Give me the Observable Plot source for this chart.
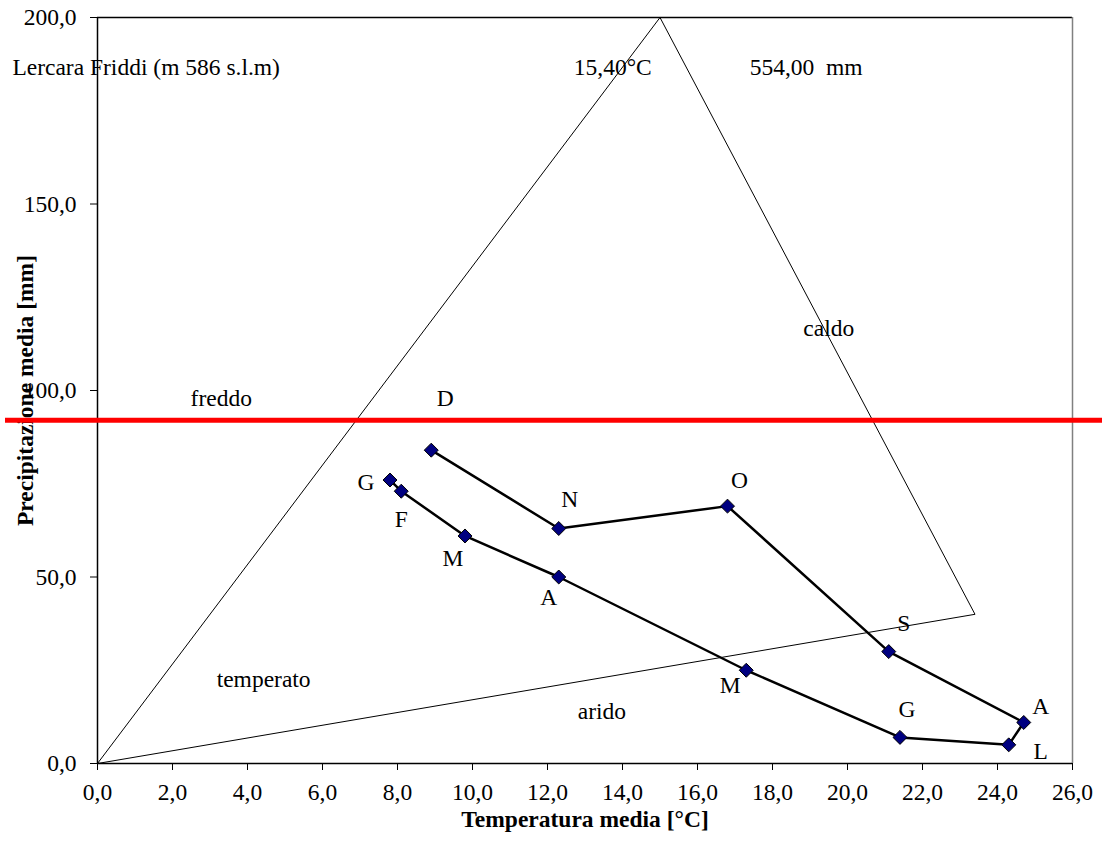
<!DOCTYPE html>
<html><head><meta charset="utf-8">
<script src="https://cdn.jsdelivr.net/npm/d3@7"></script>
<script src="https://cdn.jsdelivr.net/npm/@observablehq/plot@0.6"></script>
<style>
html,body{margin:0;padding:0;background:#fff;overflow:hidden}
svg text{white-space:pre}
</style></head><body><div id="chart"></div>
<script>
// Monthly data (Peguy climogram, Lercara Friddi)
const months = ["G","F","M","A","M","G","L","A","S","O","N","D"];
const temperature = [7.8, 8.1, 9.8, 12.3, 17.3, 21.4, 24.3, 24.7, 21.1, 16.8, 12.3, 8.9];
const precipitation = [76, 73, 61, 50, 25, 7, 5, 11, 30, 69, 63, 84];
const xTicks = [0,2,4,6,8,10,12,14,16,18,20,22,24,26];
const yTicks = [0,50,100,150,200];
// Peguy triangle vertices
const triangleT = [0, 15, 23.4, 0];
const triangleP = [0, 200, 40, 0];
// zone annotations
const zoneNames = ["freddo", "caldo", "temperato", "arido"];
const zoneT = [3.3, 19.5, 4.43, 13.45];
const zoneP = [97.9, 116.7, 22.5, 14];
const stationName = "Lercara Friddi (m 586 s.l.m)";
const redLevel = 92;

const fmt = d => d.toFixed(1).replace(".", ",");
const fmt2 = d => d.toFixed(2).replace(".", ",");
const data = months.map((m, i) => ({m, t: temperature[i], p: precipitation[i]}));
const tri = triangleT.map((t, i) => ({t, p: triangleP[i]}));
const zones = zoneNames.map((n, i) => ({n, t: zoneT[i], p: zoneP[i]}));
const meanT = d3.mean(temperature);
const sumP = d3.sum(precipitation);
const header = [
  {s: stationName, t: -2.27},
  {s: fmt2(meanT) + "°C", t: 12.7},
  {s: fmt2(sumP) + "  mm", t: 17.39}
];
// label offsets (px) for each month's data label
const labelOffsets = [[-24,2],[0,28],[-12,22],[-10,20],[-16,15],[7,-28],[32,7],[17,-16],[15,-28],[12,-26],[11,-29],[14,-52]];

const chart = Plot.plot({
  width: 1102, height: 843,
  marginLeft: 97, marginRight: 30, marginTop: 17, marginBottom: 80,
  style: {fontFamily: "'Liberation Serif', 'Times New Roman', serif", fontSize: "23.5px", color: "#000", background: "#fff"},
  x: {domain: [0, 26]},
  y: {domain: [0, 200]},
  marks: [
    Plot.axisX({ticks: xTicks, tickFormat: fmt, tickSize: 7, tickPadding: 13, label: null, fontSize: 23.5, stroke: "#000"}),
    Plot.axisY({ticks: yTicks, tickFormat: fmt, tickSize: 7, tickPadding: 14, label: null, fontSize: 23.5, stroke: "#000"}),
    Plot.ruleY([200], {stroke: "#000", strokeWidth: 1.5}),
    Plot.ruleX([26], {stroke: "#808080", strokeWidth: 1.5}),
    Plot.ruleX([0], {stroke: "#000", strokeWidth: 1.5}),
    Plot.ruleY([0], {stroke: "#000", strokeWidth: 1.5}),
    Plot.line(tri, {x: "t", y: "p", stroke: "#000", strokeWidth: 1}),
    Plot.line(data, {x: "t", y: "p", stroke: "#000", strokeWidth: 2.5}),
    Plot.dot(data, {x: "t", y: "p", symbol: "diamond2", r: 6.3, fill: "#000080", stroke: "#000", strokeWidth: 1}),
    ...labelOffsets.map((o, i) => Plot.text([data[i]], {x: "t", y: "p", text: "m", dx: o[0], dy: o[1], fill: "#000", fontSize: 23.5})),
    Plot.text(zones, {x: "t", y: "p", text: "n", fill: "#000", fontSize: 23.5}),
    Plot.text(header, {x: "t", y: () => 186.7, text: "s", textAnchor: "start", fill: "#000", fontSize: 23.5}),
    Plot.text(["Temperatura media [°C]"], {frameAnchor: "bottom", dy: 63, fontWeight: "bold", fill: "#000", fontSize: 23.5}),
    Plot.text(["Precipitazione media [mm]"], {frameAnchor: "left", textAnchor: "middle", dx: -72, rotate: -90, fontWeight: "bold", fill: "#000", fontSize: 23.5}),
    Plot.ruleY([redLevel], {stroke: "#ff0000", strokeWidth: 5, insetLeft: -92, insetRight: -30})
  ]
});
document.getElementById("chart").appendChild(chart);
</script>
</body></html>
